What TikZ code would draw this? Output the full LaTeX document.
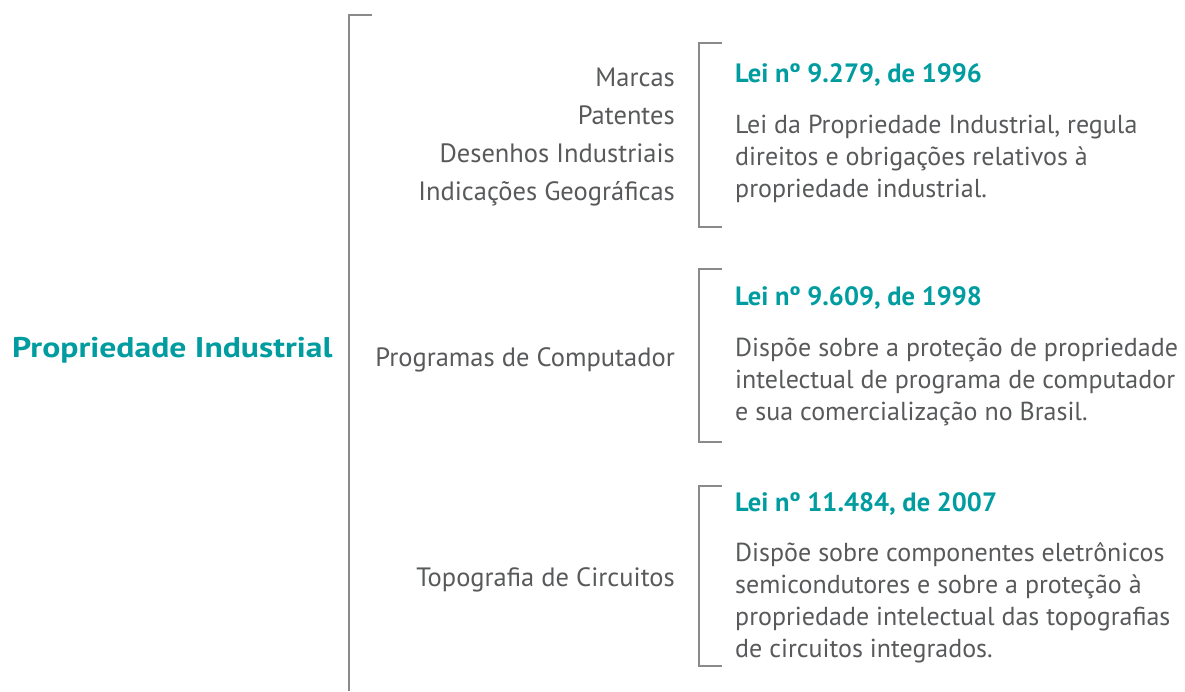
\documentclass[tikz,border=0pt]{standalone}
\usepackage{fontspec}
\setmainfont{PT Sans}
\newfontfamily\tituloFont[FakeStretch=1.18]{PT Sans}
\usepackage{tikz}
\usetikzlibrary{calc}
\definecolor{leiteal}{RGB}{0,156,160}
\definecolor{textgray}{RGB}{88,89,91}
\definecolor{bracketgray}{RGB}{138,138,138}
\tikzset{
    titulo/.style={anchor=base west, inner sep=0pt, text=leiteal, font=\tituloFont\fontsize{28.5}{33}\selectfont\bfseries},
    lei/.style={anchor=base west, inner sep=0pt, text=leiteal, font=\fontsize{26.5}{32}\selectfont\bfseries},
    item/.style={anchor=base east, inner sep=0pt, align=right, text=textgray, font=\fontsize{26.5}{38}\selectfont},
    desc/.style={anchor=base west, inner sep=0pt, align=left, text=textgray, font=\fontsize{26}{32}\selectfont},
    chave/.style={draw=bracketgray, line width=1.8pt}
}
\begin{document}
\begin{tikzpicture}[x=1pt,y=-1pt]
\useasboundingbox (0,0) rectangle (1185,691);
\node[titulo] (PI) at (12,357) {Propriedade Industrial};
\draw[chave] (372,15) -- (349,15) -- (349,691);

% base = last line
\node[item] (M1) at (675,200) {Marcas\\Patentes\\Desenhos Industriais\\Indicações Geográficas};
\node[item] (M2) at (675,366) {Programas de Computador};
\node[item] (M3) at (675,586) {Topografia de Circuitos};

\draw[chave] (722,43) -- (699,43) -- (699,227) -- (722,227);
\draw[chave] (722,269) -- (699,269) -- (699,442) -- (722,442);
\draw[chave] (722,486) -- (699,486) -- (699,666) -- (722,666);

\node[lei] (L1) at (735,82) {Lei nº 9.279, de 1996};
\node[desc] (D1) at (735,197) {Lei da Propriedade Industrial, regula\\direitos e obrigações relativos à\\propriedade industrial.};
\node[lei] (L2) at (735,305) {Lei nº 9.609, de 1998};
\node[desc] (D2) at (735,420) {Dispõe sobre a proteção de propriedade\\intelectual de programa de computador\\e sua comercialização no Brasil.};
\node[lei] (L3) at (735,511) {Lei nº 11.484, de 2007};
\node[desc] (D3) at (735,657) {Dispõe sobre componentes eletrônicos\\semicondutores e sobre a proteção à\\propriedade intelectual das topografias\\de circuitos integrados.};
\end{tikzpicture}
\end{document}
